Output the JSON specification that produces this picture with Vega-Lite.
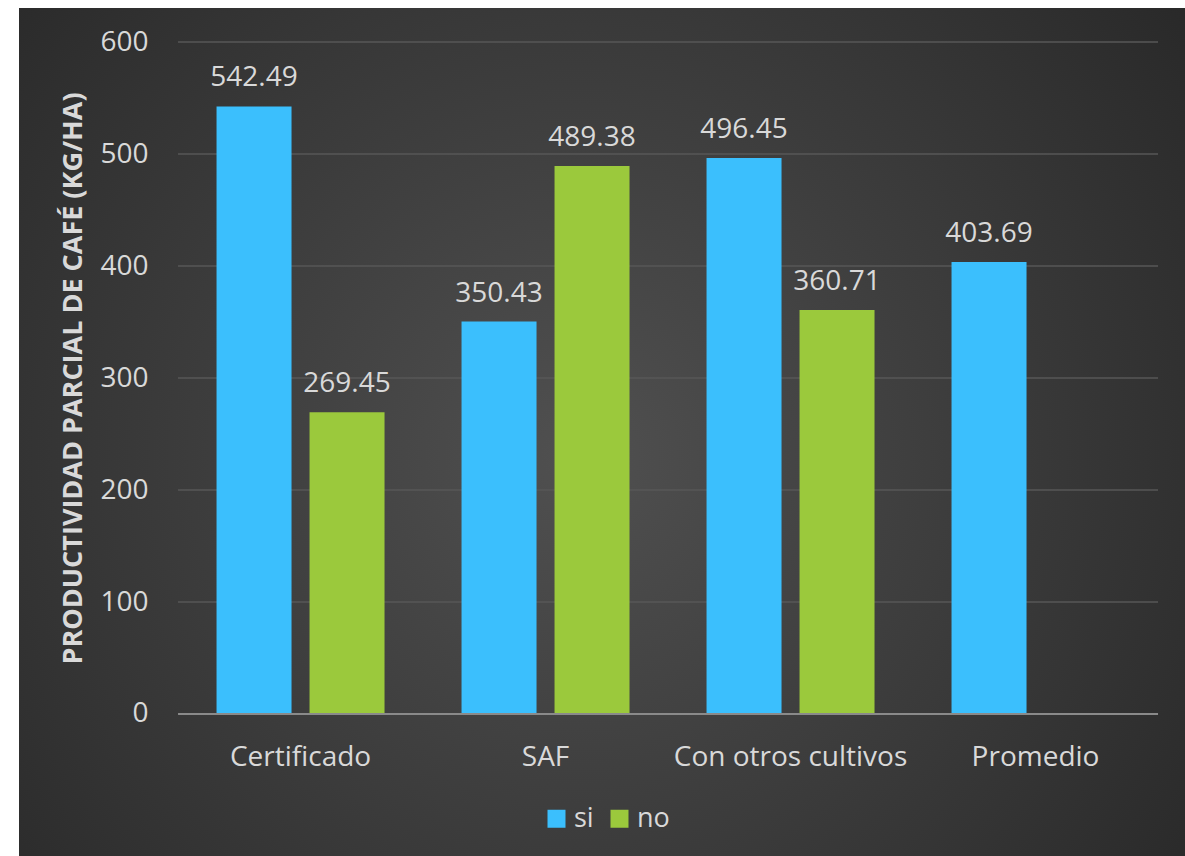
{
  "$schema": "https://vega.github.io/schema/vega-lite/v6.json",
  "width": 1166,
  "height": 848,
  "autosize": {"type": "none"},
  "padding": {"left": 19, "top": 8, "right": 0, "bottom": 0},
  "background": "#ffffff",
  "config": {
    "font": "Open Sans",
    "view": {
      "stroke": null,
      "fill": {
        "gradient": "radial",
        "x1": 0.48, "y1": 0.52, "r1": 0,
        "x2": 0.48, "y2": 0.52, "r2": 0.75,
        "stops": [
          {"offset": 0, "color": "#505050"},
          {"offset": 1, "color": "#232323"}
        ]
      }
    }
  },
  "datasets": {
    "bars": [
      {"cat": "Certificado", "serie": "si", "valor": 542.49},
      {"cat": "Certificado", "serie": "no", "valor": 269.45},
      {"cat": "SAF", "serie": "si", "valor": 350.43},
      {"cat": "SAF", "serie": "no", "valor": 489.38},
      {"cat": "Con otros cultivos", "serie": "si", "valor": 496.45},
      {"cat": "Con otros cultivos", "serie": "no", "valor": 360.71},
      {"cat": "Promedio", "serie": "si", "valor": 403.69}
    ],
    "grid": [{"g": 100}, {"g": 200}, {"g": 300}, {"g": 400}, {"g": 500}, {"g": 600}],
    "base": [{"g": 0}]
  },
  "layer": [
    {
      "data": {"name": "grid"},
      "mark": {"type": "rule", "color": "#575757", "strokeWidth": 1.5},
      "encoding": {
        "y": {
          "field": "g", "type": "quantitative",
          "scale": {"domain": [-126.8, 630.4], "nice": false, "zero": false},
          "axis": {
            "title": "PRODUCTIVIDAD PARCIAL DE CAFÉ (KG/HA)",
            "values": [0, 100, 200, 300, 400, 500, 600],
            "grid": false, "domain": false, "ticks": false, "offset": -129, "labelPadding": 0,
            "labelFontSize": 28, "labelColor": "#d9d9d9", "labelFont": "Open Sans",
            "titleFont": "Open Sans", "titleFontSize": 27, "titleFontWeight": "bold", "titleColor": "#d9d9d9",
            "titleX": -75, "titleY": 370, "titleAngle": -90, "titleAlign": "center", "titleBaseline": "middle",
            "titleLimit": 0
          }
        },
        "x": {
          "datum": "Certificado", "type": "nominal", "bandPosition": 0,
          "scale": {"domain": ["Certificado", "SAF", "Con otros cultivos", "Promedio"], "paddingInner": 0, "paddingOuter": 0.3796, "align": 0.855},
          "axis": {
            "title": null, "orient": "bottom", "offset": -142, "domain": false, "ticks": false, "grid": false,
            "labelPadding": 51, "labelBaseline": "alphabetic", "labelFontSize": 28, "labelColor": "#d9d9d9",
            "labelFont": "Open Sans", "labelAngle": 0, "labelLimit": 0
          }
        },
        "x2": {"datum": "Promedio", "bandPosition": 1}
      }
    },
    {
      "data": {"name": "bars"},
      "mark": {"type": "bar"},
      "encoding": {
        "x": {"field": "cat", "type": "nominal"},
        "xOffset": {"field": "serie", "type": "nominal", "scale": {"domain": ["si", "no"], "paddingInner": 0.1935, "paddingOuter": 0.414}},
        "y": {"field": "valor", "type": "quantitative"},
        "y2": {"datum": 0},
        "color": {
          "field": "serie", "type": "nominal",
          "scale": {"domain": ["si", "no"], "range": ["#3BBFFD", "#9BC93C"]},
          "legend": {
            "title": null, "orient": "none", "legendX": 524, "legendY": 797, "direction": "horizontal",
            "symbolType": "square", "symbolSize": 324, "symbolStrokeWidth": 0,
            "labelFontSize": 27, "labelColor": "#d9d9d9", "labelFont": "Open Sans",
            "labelOffset": 4, "columnPadding": 12, "padding": 0
          }
        }
      }
    },
    {
      "data": {"name": "bars"},
      "mark": {"type": "text", "dy": -20, "baseline": "alphabetic", "fontSize": 28, "color": "#d9d9d9", "font": "Open Sans"},
      "encoding": {
        "x": {"field": "cat", "type": "nominal"},
        "xOffset": {"field": "serie", "type": "nominal"},
        "y": {"field": "valor", "type": "quantitative"},
        "text": {"field": "valor", "type": "quantitative", "format": ".2f"}
      }
    },
    {
      "data": {"name": "base"},
      "mark": {"type": "rule", "color": "#8a8a8a", "strokeWidth": 2},
      "encoding": {
        "y": {"field": "g", "type": "quantitative"},
        "x": {"datum": "Certificado", "type": "nominal", "bandPosition": 0},
        "x2": {"datum": "Promedio", "bandPosition": 1}
      }
    }
  ]
}
